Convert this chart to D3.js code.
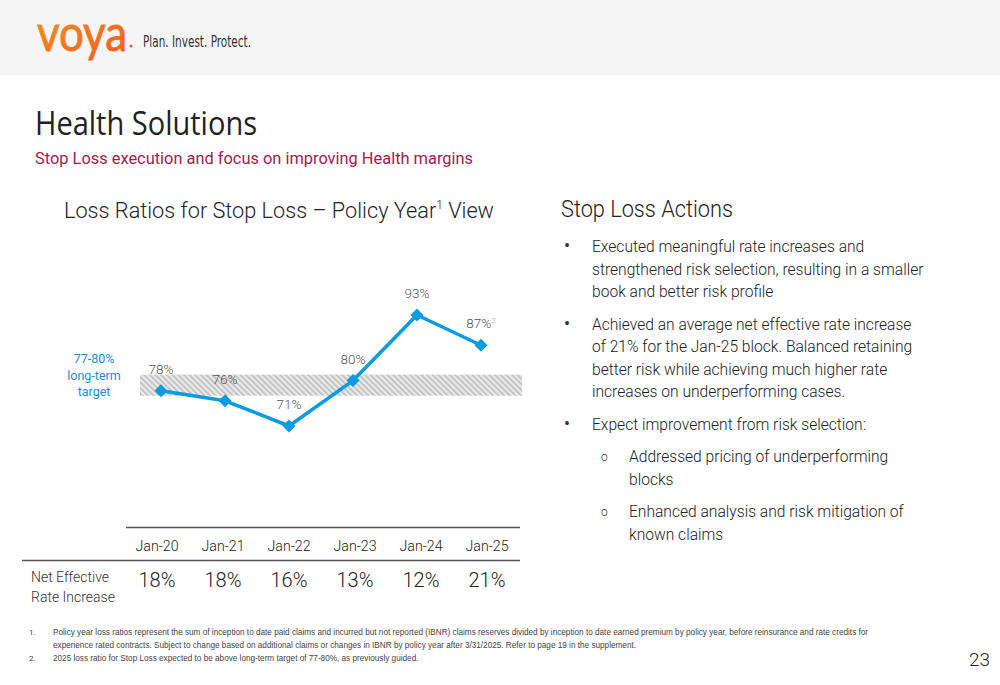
<!DOCTYPE html>
<html>
<head>
<meta charset="utf-8">
<script src="https://cdn.jsdelivr.net/npm/d3@7"></script>
<style>
  body { margin: 0; background: #fff; }
  svg { display: block; font-family: Roboto, "Open Sans", sans-serif; }
</style>
</head>
<body>
<script>
// chart data
var years = ["Jan-20", "Jan-21", "Jan-22", "Jan-23", "Jan-24", "Jan-25"]
var lossRatios = [78, 76, 71, 80, 93, 87]
var rateIncrease = [18, 18, 16, 13, 12, 21]
var targetRange = [77, 80]

var bullets = [
  { lvl: 0, lines: ["Executed meaningful rate increases and", "strengthened risk selection, resulting in a smaller", "book and better risk profile"] },
  { lvl: 0, lines: ["Achieved an average net effective rate increase", "of 21% for the Jan-25 block. Balanced retaining", "better risk while achieving much higher rate", "increases on underperforming cases."] },
  { lvl: 0, lines: ["Expect improvement from risk selection:"] },
  { lvl: 1, lines: ["Addressed pricing of underperforming", "blocks"] },
  { lvl: 1, lines: ["Enhanced analysis and risk mitigation of", "known claims"] }
]

var footnotes = [
  ["1.", "Policy year loss ratios represent the sum of inception to date paid claims and incurred but not reported (IBNR) claims reserves divided by inception to date earned premium by policy year, before reinsurance and rate credits for"],
  ["", "experience rated contracts. Subject to change based on additional claims or changes in IBNR by policy year after 3/31/2025. Refer to page 19 in the supplement."],
  ["2.", "2025 loss ratio for Stop Loss expected to be above long-term target of 77-80%, as previously guided."]
]

var W = 1000, H = 685
var blue = "#0a9be0"

var svg = d3.select("body").append("svg")
  .attr("width", W)
  .attr("height", H)

var defs = svg.append("defs")
var hatch = defs.append("pattern")
  .attr("id", "hatch")
  .attr("patternUnits", "userSpaceOnUse")
  .attr("width", 4).attr("height", 4)
  .attr("patternTransform", "rotate(-45)")
hatch.append("rect").attr("width", 4).attr("height", 4).attr("fill", "#e9e9e9")
hatch.append("rect").attr("width", 1.6).attr("height", 4).attr("fill", "#bcbcbc")

var grad = defs.append("linearGradient").attr("id", "orange")
  .attr("x1", 0).attr("x2", 1).attr("y1", 0).attr("y2", 1)
grad.append("stop").attr("offset", "0%").attr("stop-color", "#f7931e")
grad.append("stop").attr("offset", "100%").attr("stop-color", "#f05a22")

// header band + logo
svg.append("rect").attr("width", W).attr("height", 75).attr("fill", "#f5f5f5")
svg.append("text")
  .attr("x", 37).attr("y", 51)
  .attr("font-family", "Lato, sans-serif")
  .attr("font-size", 50)
  .attr("fill", "url(#orange)")
  .attr("stroke", "url(#orange)")
  .attr("stroke-width", 0.9)
  .attr("textLength", 90).attr("lengthAdjust", "spacingAndGlyphs")
  .text("voya")
svg.append("circle").attr("cx", 131).attr("cy", 46).attr("r", 1.6).attr("fill", "#f26722")
svg.append("text")
  .attr("x", 143).attr("y", 47)
  .attr("font-family", "'Liberation Sans Narrow', 'DejaVu Sans Condensed', sans-serif")
  .attr("font-size", 15)
  .attr("fill", "#333")
  .attr("textLength", 108).attr("lengthAdjust", "spacingAndGlyphs")
  .text("Plan. Invest. Protect.")

// titles
svg.append("text")
  .attr("x", 35).attr("y", 135)
  .attr("font-family", "'Open Sans', sans-serif")
  .attr("font-size", 33)
  .attr("fill", "#222")
  .attr("textLength", 222).attr("lengthAdjust", "spacingAndGlyphs")
  .text("Health Solutions")
svg.append("text")
  .attr("x", 35).attr("y", 164)
  .attr("font-size", 16)
  .attr("fill", "#a5194f")
  .attr("textLength", 438).attr("lengthAdjust", "spacingAndGlyphs")
  .text("Stop Loss execution and focus on improving Health margins")

var ct = svg.append("text")
  .attr("x", 64).attr("y", 218)
  .attr("font-size", 21.7)
  .attr("font-weight", 300)
  .attr("fill", "#222")
ct.append("tspan").text("Loss Ratios for Stop Loss \u2013 Policy Year")
ct.append("tspan").attr("font-size", 12).attr("dy", -9).text("1")
ct.append("tspan").attr("dy", 9).text(" View")

// line chart
var x = d3.scalePoint().domain(years).range([161, 481])
var y = d3.scaleLinear().domain([71, 93]).range([426, 315])

svg.append("rect")
  .attr("x", 140).attr("width", 382)
  .attr("y", y(targetRange[1]) - 6)
  .attr("height", y(targetRange[0]) - y(targetRange[1]) + 6)
  .attr("fill", "url(#hatch)")

var tgt = svg.append("text")
  .attr("text-anchor", "middle")
  .attr("font-size", 12.5)
  .attr("fill", "#1a8fd6")
;["77-80%", "long-term", "target"].forEach(function(t, i) {
  tgt.append("tspan").attr("x", 94).attr("y", 363 + i * 16.5).text(t)
})

var pts = years.map(function(d, i) { return { year: d, v: lossRatios[i] } })

svg.append("path")
  .datum(pts)
  .attr("fill", "none")
  .attr("stroke", blue)
  .attr("stroke-width", 3.5)
  .attr("stroke-linejoin", "round")
  .attr("d", d3.line().x(d => x(d.year)).y(d => y(d.v)))

svg.append("g").selectAll("path")
  .data(pts)
  .join("path")
    .attr("transform", d => `translate(${x(d.year)},${y(d.v)}) rotate(45)`)
    .attr("d", "M-4.6,-4.6H4.6V4.6H-4.6Z")
    .attr("fill", blue)

var lbl = svg.append("g").selectAll("text")
  .data(pts)
  .join("text")
    .attr("x", d => x(d.year))
    .attr("y", d => y(d.v) - 17)
    .attr("text-anchor", "middle")
    .attr("font-size", 13.5)
    .attr("font-weight", 300)
    .attr("fill", "#555")
    .text(d => d.v + "%")
lbl.filter(d => d.year == "Jan-25")
  .append("tspan").attr("font-size", 8).attr("dy", -5).attr("fill", "#999").text("2")

// table under chart
var tx = d3.scalePoint().domain(years).range([157, 487])
svg.append("line").attr("x1", 126).attr("x2", 520).attr("y1", 527.5).attr("y2", 527.5)
  .attr("stroke", "#555").attr("stroke-width", 1.5)
svg.append("line").attr("x1", 22).attr("x2", 520).attr("y1", 560.5).attr("y2", 560.5)
  .attr("stroke", "#555").attr("stroke-width", 1.5)

svg.append("g").selectAll("text")
  .data(years)
  .join("text")
    .attr("x", d => tx(d)).attr("y", 551)
    .attr("text-anchor", "middle")
    .attr("font-size", 14.2)
    .attr("font-weight", 300)
    .attr("fill", "#222")
    .text(d => d)

svg.append("g").selectAll("text")
  .data(rateIncrease)
  .join("text")
    .attr("x", (d, i) => tx(years[i])).attr("y", 587)
    .attr("text-anchor", "middle")
    .attr("font-size", 20)
    .attr("font-weight", 300)
    .attr("fill", "#222")
    .text(d => d + "%")

var nl = svg.append("text").attr("font-size", 14).attr("font-weight", 300).attr("fill", "#333")
nl.append("tspan").attr("x", 31).attr("y", 582).text("Net Effective")
nl.append("tspan").attr("x", 31).attr("y", 602).text("Rate Increase")

// right panel
svg.append("text")
  .attr("x", 561).attr("y", 217)
  .attr("font-size", 23)
  .attr("font-weight", 300)
  .attr("fill", "#222")
  .attr("textLength", 172).attr("lengthAdjust", "spacingAndGlyphs")
  .text("Stop Loss Actions")

var yy = 252
bullets.forEach(function(b) {
  var bx = b.lvl ? 601 : 564, tx0 = b.lvl ? 629 : 592
  svg.append("text")
    .attr("x", bx).attr("y", yy - (b.lvl ? 1 : 0))
    .attr("font-size", b.lvl ? 12 : 18)
    .attr("font-weight", b.lvl ? 300 : 400)
    .attr("fill", "#333")
    .text(b.lvl ? "o" : "\u2022")
  b.lines.forEach(function(l, i) {
    svg.append("text")
      .attr("x", tx0).attr("y", yy + i * 22.5)
      .attr("font-size", 15.6)
      .attr("font-weight", 300)
      .attr("fill", "#222")
      .text(l)
  })
  yy += b.lines.length * 22.5 + 10
})

// footnotes
footnotes.forEach(function(f, i) {
  svg.append("text").attr("x", 29).attr("y", 635 + i * 13)
    .attr("font-size", 8).attr("fill", "#444").text(f[0])
  svg.append("text").attr("x", 53).attr("y", 635 + i * 13)
    .attr("font-size", 8.2).attr("fill", "#444")
    .attr("font-family", "'Liberation Sans Narrow', sans-serif")
    .text(f[1])
})

svg.append("text")
  .attr("x", 990).attr("y", 666)
  .attr("text-anchor", "end")
  .attr("font-size", 19)
  .attr("font-weight", 300)
  .attr("fill", "#222")
  .text("23")
</script>
</body>
</html>
